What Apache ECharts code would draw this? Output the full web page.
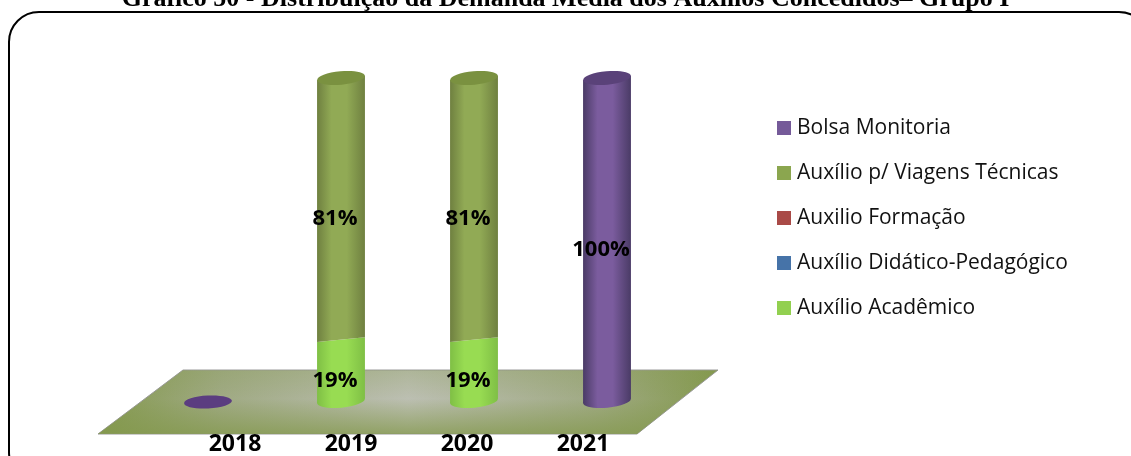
<!DOCTYPE html>
<html><head><meta charset="utf-8">
<style>html,body{margin:0;padding:0;background:#fff}#c{width:1131px;height:456px}</style>
<script src="https://cdn.jsdelivr.net/npm/echarts@6/dist/echarts.min.js"></script>
</head><body><div id="c"></div>
<script>
const titleText = 'Gráfico 50 - Distribuição da Demanda Média dos Auxílios Concedidos– Grupo I';
const years = ['2018','2019','2020','2021'];
const academico = [0,19,19,0];
const didatico  = [0,0,0,0];
const formacao  = [0,0,0,0];
const viagens   = [0,81,81,0];
const bolsa     = [0,0,0,100];
const seriesDefs = [
  {name:'Auxílio Acadêmico', vals:academico, color:'#92d050', edge:'#7fbf45', mid:'#98dc52', top:'#92d050'},
  {name:'Auxílio Didático-Pedagógico', vals:didatico, color:'#4673a8', edge:'#375c88', mid:'#4f7fb8', top:'#375c88'},
  {name:'Auxilio Formação', vals:formacao, color:'#a94a47', edge:'#853a38', mid:'#b8504d', top:'#853a38'},
  {name:'Auxílio p/ Viagens Técnicas', vals:viagens, color:'#8ba64f', edge:'#6f8040', mid:'#91aa55', top:'#7a9140'},
  {name:'Bolsa Monitoria', vals:bolsa, color:'#755a99', edge:'#4a3b66', mid:'#7b5c9e', top:'#5a4279'}
];
const legendOrder = seriesDefs.map(d=>d.name).reverse();
const running = years.map(()=>0);
const TILT = 0.09;
function makeSeries(def){
  const data = def.vals.map((v,i)=>{const s=running[i]; running[i]+=v; return [i,s,s+v,v];});
  return {
    type:'custom', name:def.name, xAxisIndex:0, yAxisIndex:0, clip:false, silent:true,
    itemStyle:{color:def.color}, data,
    renderItem(params,api){
      const cat=api.value(0), start=api.value(1), end=api.value(2), val=api.value(3);
      if(!(val>0)) return {type:'group',children:[]};
      const a=api.coord([cat,start]), b=api.coord([cat,end]);
      const w=api.size([1,0])[0]*0.36, h=w/2, ry=w*0.14, t=w*TILT/2*1.1;
      const grad={type:'linear',x:0,y:0,x2:1,y2:0,colorStops:[
        {offset:0,color:def.edge},{offset:.3,color:def.mid},{offset:.62,color:def.mid},{offset:1,color:def.edge}]};
      const kids=[];
      const rot=0.09;
      if(start===0) kids.push({type:'ellipse',x:a[0],y:a[1],rotation:rot,originX:0,originY:0,shape:{cx:0,cy:0,rx:h,ry},style:{fill:grad}});
      kids.push({type:'polygon',shape:{points:[[a[0]-h,a[1]+t],[a[0]+h,a[1]-t],[b[0]+h,b[1]-t],[b[0]-h,b[1]+t]]},style:{fill:grad}});
      if(end>=100) kids.push({type:'ellipse',x:b[0],y:b[1],rotation:rot,originX:0,originY:0,shape:{cx:0,cy:0,rx:h,ry},style:{fill:def.top}});
      const my=(a[1]+b[1])/2;
      kids.push({type:'text',z2:10,style:{text:val+'%',x:a[0]-6,y:my+10,align:'center',verticalAlign:'middle',font:'bold 22px "Open Sans"',fill:'#000'}});
      return {type:'group',children:kids};
    }
  };
}
const mainSeries = seriesDefs.map(makeSeries);
// Empty-year marker: the flat disc of a 0-value stack (2018)
mainSeries.push({
  type:'custom', name:'marker2018', xAxisIndex:0, yAxisIndex:0, clip:false, silent:true,
  data: years.map((y,i)=>[i,running[i]]).filter(d=>d[1]===0),
  renderItem(params,api){
    const p=api.coord([api.value(0),0]), w=api.size([1,0])[0]*0.36;
    return {type:'ellipse',x:p[0],y:p[1]+1,rotation:0.05,shape:{cx:0,cy:0,rx:w/2,ry:6.5},style:{fill:'#5b3d80'}};
  }
});
const floorPts = [[183,370],[718,370],[637,434],[98,434]];
const chart = echarts.init(document.getElementById('c'),null,{renderer:'canvas'});
chart.setOption({
  animation:false, backgroundColor:'#fff',
  title:{text:titleText,left:'center',top:-14,padding:0,textStyle:{fontFamily:'Liberation Serif',fontWeight:'bold',fontSize:26,color:'#000'}},
  legend:{data:legendOrder,orient:'vertical',left:772,top:112.5,itemWidth:14,itemHeight:14,itemGap:24,selectedMode:false,icon:'rect',
    textStyle:{fontFamily:'Open Sans',fontSize:21,color:'#111',padding:[0,0,0,1]}},
  grid:[{left:141.5,width:532,top:78,bottom:55},{left:177,width:464,top:78,bottom:22}],
  xAxis:[
    {type:'category',gridIndex:0,data:years,show:false},
    {type:'category',gridIndex:1,data:years,axisLine:{show:false},axisTick:{show:false},axisLabel:{margin:1,fontFamily:'Open Sans',fontWeight:'bold',fontSize:23,color:'#000'}}
  ],
  yAxis:[
    {type:'value',gridIndex:0,min:0,max:100,show:false},
    {type:'value',gridIndex:1,min:0,max:100,show:false}
  ],
  graphic:[
    {type:'polygon',silent:true,z:0,shape:{points:floorPts},
      style:{fill:{type:'linear',x:0,y:0,x2:1,y2:0,colorStops:[{offset:0,color:'#84994e'},{offset:.2,color:'#a0aa84'},{offset:.5,color:'#bcbfb2'},{offset:.8,color:'#a0aa84'},{offset:1,color:'#84994e'}]},stroke:'#9a9a9a',lineWidth:1}},
    {type:'polygon',silent:true,z:0,shape:{points:floorPts},
      style:{fill:{type:'linear',x:0,y:0,x2:0,y2:1,colorStops:[{offset:0,color:'rgba(132,153,78,0.25)'},{offset:.45,color:'rgba(132,153,78,0)'},{offset:1,color:'rgba(132,153,78,0.75)'}]}}},
    {type:'rect',silent:true,z:1,shape:{x:9,y:12,width:1140,height:470,r:30},style:{fill:'none',stroke:'#000',lineWidth:2}}
  ],
  series:mainSeries
});
</script></body></html>
